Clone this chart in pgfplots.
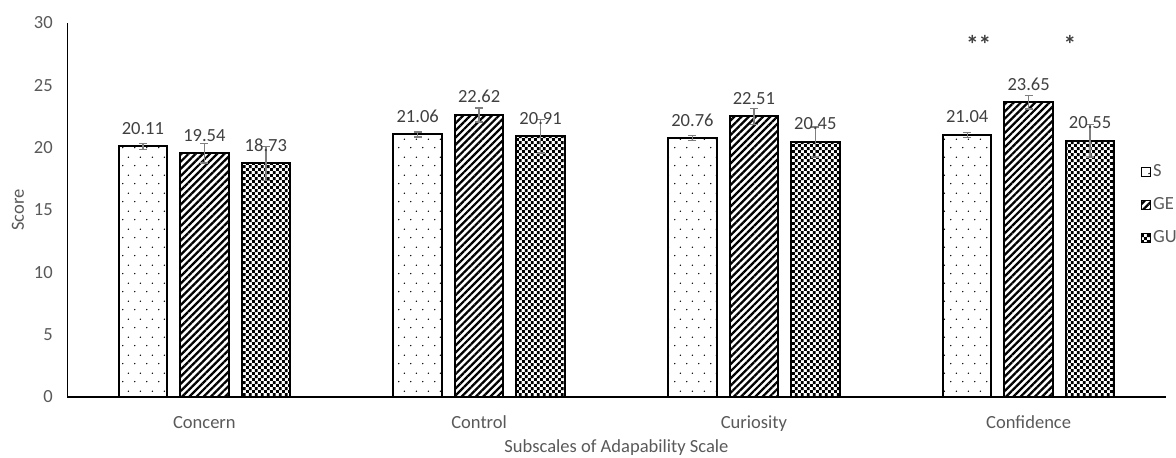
\documentclass[border=0pt]{standalone}
\usepackage{fontspec}
\setmainfont{Carlito}
\usepackage{pgfplots}
\pgfplotsset{compat=1.18}
\usetikzlibrary{patterns,patterns.meta}

\definecolor{ticktext}{HTML}{595959}
\definecolor{valtext}{HTML}{404040}
\definecolor{errgray}{HTML}{7F7F7F}

% sparse dots (S)
\pgfdeclarepattern{
  name=sparsedots, type=uncolored,
  bottom left={\pgfpoint{0pt}{0pt}}, top right={\pgfpoint{9pt}{13.5pt}},
  tile size={\pgfpoint{9pt}{13.5pt}},
  code={
    \pgfpathcircle{\pgfpoint{2.25pt}{3.4pt}}{0.6pt}
    \pgfpathcircle{\pgfpoint{6.75pt}{10.1pt}}{0.6pt}
    \pgfusepath{fill}
  }}
% small checkerboard (GU)
\pgfdeclarepattern{
  name=smallchecker, type=uncolored,
  bottom left={\pgfpoint{0pt}{0pt}}, top right={\pgfpoint{4.4pt}{4.4pt}},
  tile size={\pgfpoint{4.4pt}{4.4pt}},
  code={
    \pgfpathrectangle{\pgfpoint{0pt}{0pt}}{\pgfpoint{2.2pt}{2.2pt}}
    \pgfpathrectangle{\pgfpoint{2.2pt}{2.2pt}}{\pgfpoint{2.2pt}{2.2pt}}
    \pgfusepath{fill}
  }}

\pgfplotsset{/pgf/number format/assume math mode=true}

\begin{document}
\fontsize{13.9}{16.7}\selectfont
\begin{tikzpicture}
\begin{axis}[
    at={(0pt,0pt)}, anchor=south west,
    scale only axis,
    width=824.25pt, height=280.5pt,
    ybar=9.7pt, bar width=36.4pt,
    xmin=-0.5, xmax=3.5,
    ymin=0, ymax=30,
    ytick={0,5,...,30},
    xtick={0,1,2,3},
    xticklabels={Concern,Control,Curiosity,Confidence},
    major tick length=0pt,
    axis x line=bottom, axis y line=left,
    axis line style={-, black},
    x axis line style={line width=1pt},
    y axis line style={line width=0.7pt},
    tick label style={text=ticktext},
    yticklabel style={anchor=east, inner sep=0pt, xshift=-10.5pt},
    xticklabel style={anchor=base, inner sep=0pt, yshift=-23.5pt},
    every axis y label/.style={at={([xshift=-36.75pt]axis description cs:0,0.5)}, anchor=center, rotate=90, text=ticktext},
    every axis x label/.style={at={([yshift=-41.5pt]axis description cs:0.5,0)}, anchor=base, inner sep=0pt, text=ticktext},
    ylabel={Score},
    xlabel={Subscales of Adapability Scale},
    nodes near coords,
    every node near coord/.append style={text=valtext, anchor=south, inner sep=0pt, yshift=8.25pt,
        /pgf/number format/.cd, fixed, fixed zerofill, precision=2},
    error bars/y dir=both, error bars/y explicit,
    error bars/error bar style={line width=1pt, errgray},
    error bars/error mark options={rotate=90, mark size=3pt, line width=1pt, errgray},
    legend image code/.code={\draw[#1, line width=0.6pt] (0pt,-3.4pt) rectangle (6.8pt,3.4pt);},
    legend style={draw=none, fill=none, inner sep=0pt, text=ticktext,
        at={(rel axis cs:0.9773,0.627)}, anchor=north west,
        row sep=10.5pt, nodes={inner sep=1.5pt}},
    legend cell align=left,
]
\addplot[draw=black, line width=1.5pt, pattern=sparsedots, pattern color=black]
    coordinates {(0,20.11) +- (0,0.25) (1,21.06) +- (0,0.2) (2,20.76) +- (0,0.2) (3,21.04) +- (0,0.2)};
\addlegendentry{S}
\addplot[draw=black, line width=1.5pt, pattern={Lines[angle=45,distance=3.8pt,line width=1.7pt]}, pattern color=black]
    coordinates {(0,19.54) +- (0,0.77) (1,22.62) +- (0,0.55) (2,22.51) +- (0,0.65) (3,23.65) +- (0,0.55)};
\addlegendentry{GE}
\addplot[draw=black, line width=1.5pt, pattern=smallchecker, pattern color=black]
    coordinates {(0,18.73) +- (0,1.35) (1,20.91) +- (0,1.33) (2,20.45) +- (0,1.2) (3,20.55) +- (0,1.3)};
\addlegendentry{GU}
\node[text=valtext, font=\fontsize{19}{20}\selectfont\bfseries] at (axis cs:2.818,28.3) {**};
\node[text=valtext, font=\fontsize{19}{20}\selectfont\bfseries] at (axis cs:3.15,28.3) {*};
\end{axis}
\pgfresetboundingbox
\path[use as bounding box] (-50.25pt,-45pt) rectangle (831.75pt,297.75pt);
\end{tikzpicture}
\end{document}
